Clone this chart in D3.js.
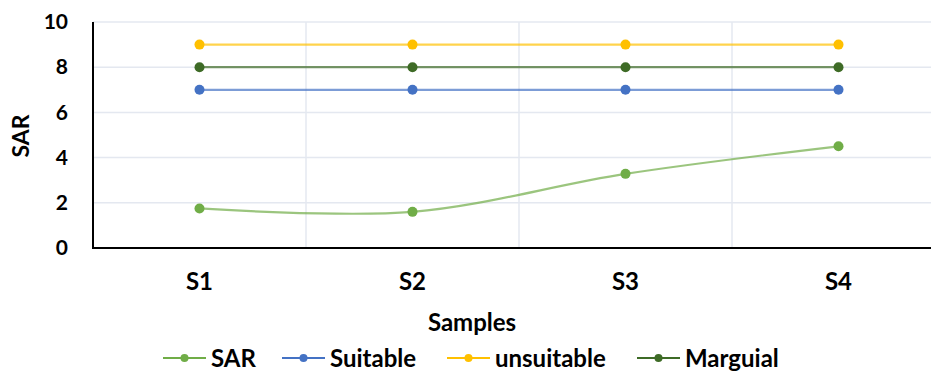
<!DOCTYPE html>
<html>
<head>
<meta charset="utf-8">
<script src="https://cdn.jsdelivr.net/npm/d3@7"></script>
<style>
  body { margin: 0; background: #fff; }
  svg { display: block; font-family: Lato, "Open Sans", sans-serif; font-weight: bold; }
</style>
</head>
<body>
<div id="chart"></div>
<script>
const categories = ['S1', 'S2', 'S3', 'S4'];
const sar = [1.75, 1.6, 3.28, 4.5];
const suitable = [7, 7, 7, 7];
const unsuitable = [9, 9, 9, 9];
const marguial = [8, 8, 8, 8];
const yTicks = [0, 2, 4, 6, 8, 10];

const series = [
  { name: 'SAR', values: sar, color: '#70ad47', smooth: true },
  { name: 'Suitable', values: suitable, color: '#4472c4' },
  { name: 'unsuitable', values: unsuitable, color: '#ffc000' },
  { name: 'Marguial', values: marguial, color: '#3e6b26' }
];

const w = 931;
const h = 371;
const plotLeft = 93;
const plotTop = 22;
const plotBottom = 248;

const svg = d3.select('#chart')
              .append('svg')
              .attr('width', w)
              .attr('height', h);

const xScale = d3.scaleBand()
                 .domain(categories)
                 .range([plotLeft, plotLeft + 4 * 213])
                 .padding(0);

const yScale = d3.scaleLinear()
                 .domain([0, 10])
                 .range([plotBottom, plotTop]);

// gridlines
svg.append('g')
   .selectAll('line')
   .data(yTicks.slice(1))
   .enter()
   .append('line')
   .attr('x1', plotLeft)
   .attr('x2', w)
   .attr('y1', (d) => yScale(d))
   .attr('y2', (d) => yScale(d))
   .attr('stroke', '#e4e8f0')
   .attr('stroke-width', 1.5);

svg.append('g')
   .selectAll('line')
   .data(categories.slice(1))
   .enter()
   .append('line')
   .attr('x1', (d) => xScale(d))
   .attr('x2', (d) => xScale(d))
   .attr('y1', plotTop)
   .attr('y2', plotBottom)
   .attr('stroke', '#e4e8f0')
   .attr('stroke-width', 1.5);

// axes
const yAxis = d3.axisLeft(yScale).tickValues(yTicks).tickSize(0).tickPadding(25);
const xAxis = d3.axisBottom(xScale).tickSize(0).tickPadding(25);

const yG = svg.append('g')
   .attr('transform', 'translate(' + plotLeft + ',0)')
   .call(yAxis);
yG.select('.domain').attr('stroke', '#000').attr('stroke-width', 2).attr('d', 'M0,' + plotTop + 'V' + (plotBottom + 1));
yG.selectAll('text').attr('font-size', 21).attr('font-family', 'Lato').attr('font-weight', 'bold').attr('fill', '#000');

const xG = svg.append('g')
   .attr('transform', 'translate(0,' + plotBottom + ')')
   .call(xAxis);
xG.select('.domain').attr('stroke', '#000').attr('stroke-width', 2).attr('d', 'M' + (plotLeft - 1) + ',0H' + w);
xG.selectAll('text').attr('font-size', 24).attr('font-family', 'Lato').attr('font-weight', 'bold').attr('fill', '#000');

// axis titles
svg.append('text')
   .attr('transform', 'translate(29,136) rotate(-90)')
   .attr('text-anchor', 'middle')
   .attr('font-size', 23)
   .text('SAR');

svg.append('text')
   .attr('x', 472)
   .attr('y', 331)
   .attr('text-anchor', 'middle')
   .attr('font-size', 24)
   .text('Samples');

// lines
const cx = (i) => xScale(categories[i]) + xScale.bandwidth() / 2;

series.forEach(function (s) {
  const line = d3.line()
                 .x((d, i) => cx(i))
                 .y((d) => yScale(d))
                 .curve(s.smooth ? d3.curveCatmullRom.alpha(0.5) : d3.curveLinear);
  svg.append('path')
     .datum(s.values)
     .attr('d', line)
     .attr('fill', 'none')
     .attr('stroke', s.color)
     .attr('stroke-opacity', 0.7)
     .attr('stroke-width', 2.2);
});

series.forEach(function (s) {
  svg.append('g')
     .selectAll('circle')
     .data(s.values)
     .enter()
     .append('circle')
     .attr('cx', (d, i) => cx(i))
     .attr('cy', (d) => yScale(d))
     .attr('r', 5)
     .attr('fill', s.color);
});

// legend
const legendX = [163, 282, 447, 637];
const legend = svg.append('g');
series.forEach(function (s, i) {
  const g = legend.append('g').attr('transform', 'translate(' + legendX[i] + ',358)');
  g.append('line').attr('x1', 0).attr('x2', 43).attr('stroke', s.color).attr('stroke-width', 2);
  g.append('circle').attr('cx', 21.5).attr('r', 4).attr('fill', s.color);
  g.append('text').attr('x', 48).attr('y', 9).attr('font-size', 24).text(s.name);
});
</script>
</body>
</html>
